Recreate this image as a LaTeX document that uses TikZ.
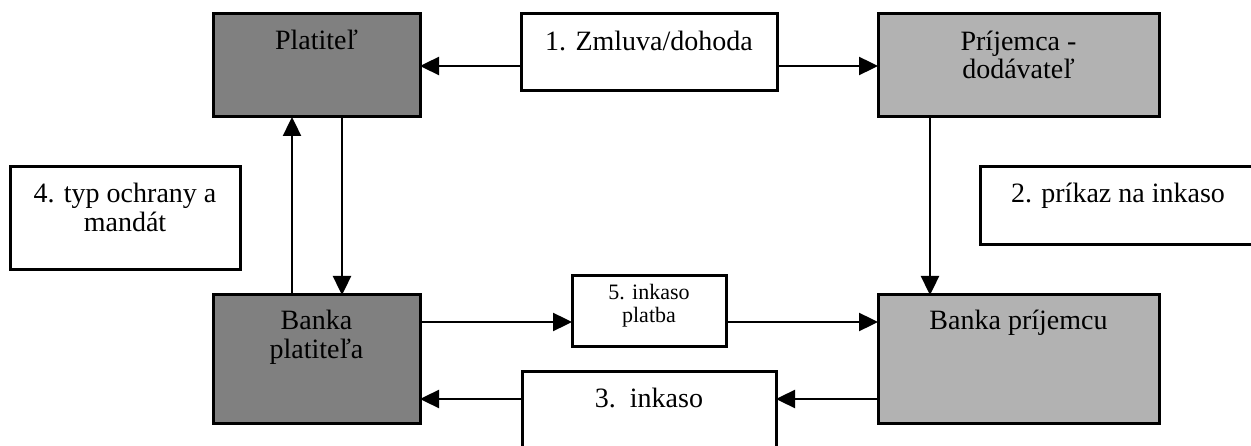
\documentclass[tikz,border=0pt]{standalone}
\usepackage{fontspec}
\setmainfont{Liberation Serif}
\usetikzlibrary{arrows.meta,calc}
\definecolor{darkbox}{gray}{0.5}
\definecolor{lightbox}{gray}{0.70}
\begin{document}
\begin{tikzpicture}[x=1pt,y=-1pt,
 box/.style={draw=black, line width=3pt, inner sep=0pt, outer sep=0pt, anchor=north west},
 lbl/.style={anchor=base, inner sep=0pt, font=\fontsize{28}{28}\selectfont},
 slbl/.style={anchor=base, inner sep=0pt, font=\fontsize{22}{22}\selectfont},
 arr/.style={line width=2.4pt, -{Triangle[length=19pt,width=18pt]}}]
\useasboundingbox (0,0) rectangle (1251,446);
% boxes
\node[box, fill=darkbox, minimum width=207pt, minimum height=103pt] (plat) at (213,14) {};
\node[box, fill=white, minimum width=256pt, minimum height=77pt] (zml) at (521,14) {};
\node[box, fill=lightbox, minimum width=281pt, minimum height=103pt] (prij) at (878,14) {};
\node[box, fill=white, minimum width=230pt, minimum height=103pt] (typ) at (10,167) {};
\node[box, fill=white, minimum width=276pt, minimum height=78pt] (prikaz) at (980,167) {};
\node[box, fill=darkbox, minimum width=207pt, minimum height=128pt] (bplat) at (213,295) {};
\node[box, fill=white, minimum width=154pt, minimum height=71pt] (inks) at (572,276) {};
\node[box, fill=lightbox, minimum width=281pt, minimum height=128pt] (bprij) at (878,295) {};
\node[box, fill=white, minimum width=254pt, minimum height=90pt] (ink3) at (522,372) {};
% texts
\node[lbl] (tplat) at ($(plat.north)+(0,36)$) {Platiteľ};
\node[lbl] (tzml) at ($(zml.north)+(0,37)$) {1. Zmluva/dohoda};
\node[lbl] (tprij1) at ($(prij.north)+(0,37)$) {Príjemca -};
\node[lbl] (tprij2) at ($(prij.north)+(0,65)$) {dodávateľ};
\node[lbl] (ttyp1) at ($(typ.north)+(0,36)$) {4. typ ochrany a};
\node[lbl] (ttyp2) at ($(typ.north)+(0,65)$) {mandát};
\node[lbl] (tprikaz) at ($(prikaz.north)+(0,36)$) {2. príkaz na inkaso};
\node[lbl] (tbplat1) at ($(bplat.north)+(0,35)$) {Banka};
\node[lbl] (tbplat2) at ($(bplat.north)+(0,64)$) {platiteľa};
\node[slbl] (tinks1) at ($(inks.north)+(0,24)$) {5. inkaso};
\node[slbl] (tinks2) at ($(inks.north)+(0,47)$) {platba};
\node[lbl] (tbprij) at ($(bprij.north)+(0,35)$) {Banka príjemcu};
\node[lbl] (tink3) at ($(ink3.north)+(0,35)$) {3.\ \ inkaso};
% helper coordinates
\coordinate (ya) at (0,66);
\coordinate (yb) at (0,322);
\coordinate (yc) at (0,399);
\coordinate (xu) at (292,0);
\coordinate (xd) at (342,0);
\coordinate (xr) at (930,0);
% connectors
\draw[arr] (zml.west |- ya) -- (plat.east |- ya);
\draw[arr] (zml.east |- ya) -- (prij.west |- ya);
\draw[arr] (prij.south -| xr) -- (bprij.north -| xr);
\draw[arr] (bplat.north -| xu) -- (plat.south -| xu);
\draw[arr] (plat.south -| xd) -- (bplat.north -| xd);
\draw[arr] (bplat.east |- yb) -- (inks.west |- yb);
\draw[arr] (inks.east |- yb) -- (bprij.west |- yb);
\draw[arr] (bprij.west |- yc) -- (ink3.east |- yc);
\draw[arr] (ink3.west |- yc) -- (bplat.east |- yc);
\end{tikzpicture}
\end{document}
